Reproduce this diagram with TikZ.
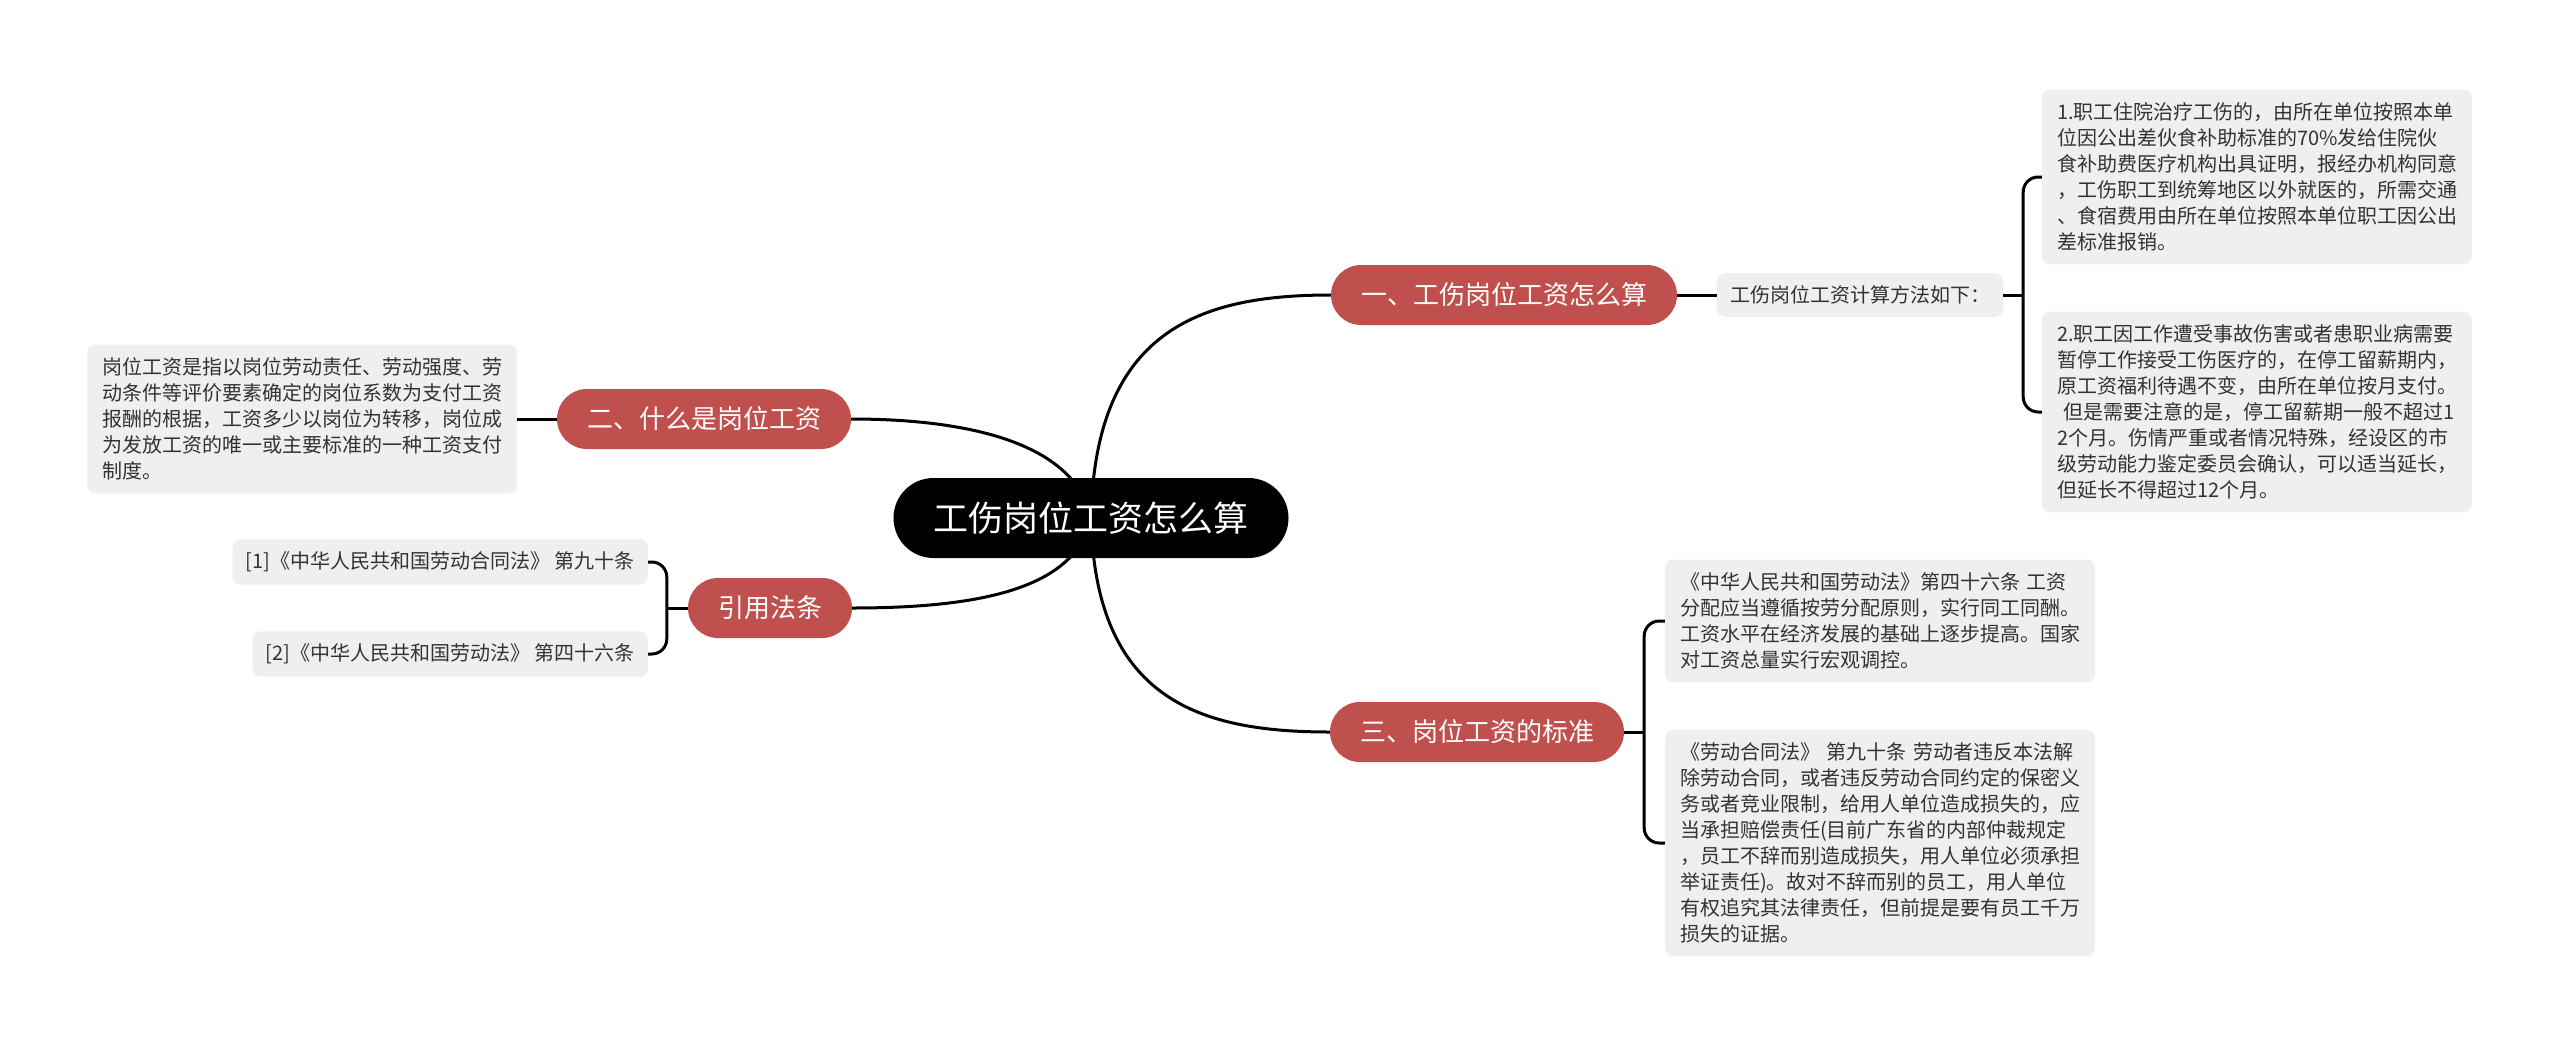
\documentclass[tikz,border=0pt]{standalone}
\usepackage{fontspec}
\usetikzlibrary{backgrounds}
\setmainfont{Noto Sans CJK SC}
\definecolor{branchred}{HTML}{C0504D}
\definecolor{leafgray}{HTML}{EFEFEF}
\definecolor{leaftext}{HTML}{333333}
\tikzset{
	rootbox/.style={rectangle, rounded corners=40pt, fill=black, text=white, minimum height=80pt, inner xsep=40pt, font=\fontsize{35}{40}\selectfont},
	branchbox/.style={rectangle, rounded corners=30pt, fill=branchred, text=white, minimum height=60pt, inner xsep=30pt, font=\fontsize{26}{30}\selectfont},
	leafbox/.style={rectangle, rounded corners=8pt, fill=leafgray, text=leaftext, inner xsep=13pt, inner ysep=12.5pt, font=\fontsize{20}{26}\selectfont},
	leafwide/.style={leafbox, text width=400pt, align=left, inner xsep=15pt, inner ysep=13pt},
	link/.style={draw, line width=3pt},
	bracket/.style={link, rounded corners=15pt},
}
\begin{document}
\begin{tikzpicture}[x=1pt, y=-1pt]
	\useasboundingbox (0,0) rectangle (2560,1047);
	% Central topic
	\node[rootbox] (root) at (1091,518) {工伤岗位工资怎么算};
	% Main branches
	\node[branchbox] (calcway) at (1504,295) {一、工伤岗位工资怎么算};
	\node[branchbox] (whatis) at (704,419) {二、什么是岗位工资};
	\node[branchbox] (laws) at (770,608) {引用法条};
	\node[branchbox] (standard) at (1477,732) {三、岗位工资的标准};
	% Connections between root and branches (behind the root)
	\begin{pgfonlayer}{background}
		\draw[link] (root.center) .. controls +(4,-188) and +(-131,0) .. (calcway.west);
		\draw[link] (root.center) .. controls +(-15,-70) and +(130,0) .. (whatis.east);
		\draw[link] (root.center) .. controls +(-15,70) and +(130,0) .. (laws.east);
		\draw[link] (root.center) .. controls +(4,182) and +(-130,0) .. (standard.west);
	\end{pgfonlayer}
	% Branch one: calculation
	\node[leafbox] (method) at (1860,295) {工伤岗位工资计算方法如下：};
	\node[leafwide] (hospital) at (2257,177) {1.职工住院治疗工伤的，由所在单位按照本单\\位因公出差伙食补助标准的70\%发给住院伙\\食补助费医疗机构出具证明，报经办机构同意\\，工伤职工到统筹地区以外就医的，所需交通\\、食宿费用由所在单位按照本单位职工因公出\\差标准报销。};
	\node[leafwide] (leave) at (2257,412) {2.职工因工作遭受事故伤害或者患职业病需要\\暂停工作接受工伤医疗的，在停工留薪期内，\\原工资福利待遇不变，由所在单位按月支付。\\\hspace*{0.3em}但是需要注意的是，停工留薪期一般不超过1\\2个月。伤情严重或者情况特殊，经设区的市\\级劳动能力鉴定委员会确认，可以适当延长，\\但延长不得超过12个月。};
	\draw[link] (calcway.east) -- (method.west);
	\path (method.east) ++(20,0) coordinate (fork1);
	\draw[link] (method.east) -- (fork1);
	\draw[bracket] (hospital.west) -| (fork1) |- (leave.west);
	% Branch two: definition
	\node[leafwide] (define) at (302,419) {岗位工资是指以岗位劳动责任、劳动强度、劳\\动条件等评价要素确定的岗位系数为支付工资\\报酬的根据，工资多少以岗位为转移，岗位成\\为发放工资的唯一或主要标准的一种工资支付\\制度。};
	\draw[link] (whatis.west) -- (define.east);
	% Cited laws
	\node[leafbox, anchor=east] (ref1) at (648,562) {[1]《中华人民共和国劳动合同法》 第九十条};
	\node[leafbox, anchor=east] (ref2) at (648,654) {[2]《中华人民共和国劳动法》 第四十六条};
	\path (laws.west) ++(-21,0) coordinate (fork3);
	\draw[link] (laws.west) -- (fork3);
	\draw[bracket] (ref1.east) -| (fork3) |- (ref2.east);
	% Branch three: standard
	\node[leafwide] (art46) at (1880,621) {《中华人民共和国劳动法》第四十六条 工资\\分配应当遵循按劳分配原则，实行同工同酬。\\工资水平在经济发展的基础上逐步提高。国家\\对工资总量实行宏观调控。};
	\node[leafwide] (art90) at (1880,843) {《劳动合同法》 第九十条 劳动者违反本法解\\除劳动合同，或者违反劳动合同约定的保密义\\务或者竞业限制，给用人单位造成损失的，应\\当承担赔偿责任(目前广东省的内部仲裁规定\\，员工不辞而别造成损失，用人单位必须承担\\举证责任)。故对不辞而别的员工，用人单位\\有权追究其法律责任，但前提是要有员工千万\\损失的证据。};
	\path (standard.east) ++(20,0) coordinate (fork4);
	\draw[link] (standard.east) -- (fork4);
	\draw[bracket] (art46.west) -| (fork4) |- (art90.west);
\end{tikzpicture}
\end{document}
